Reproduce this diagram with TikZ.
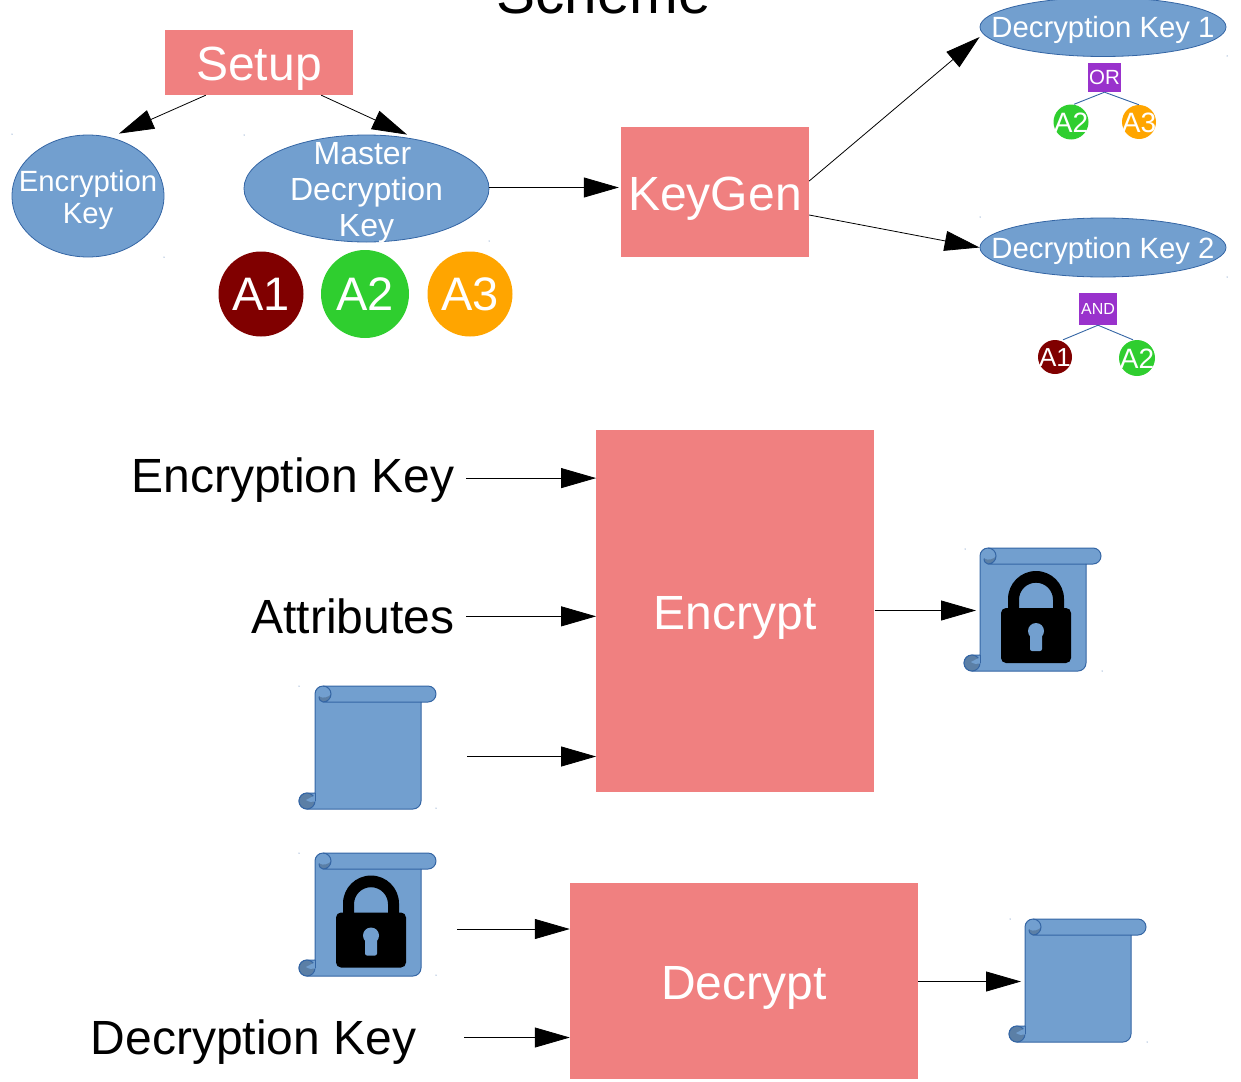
\documentclass[tikz,border=0pt]{standalone}
\usepackage{fontspec}
\setmainfont{Liberation Sans}
\usetikzlibrary{arrows.meta,shapes.geometric}
\definecolor{bluefill}{HTML}{729FCF}
\definecolor{blueline}{HTML}{3465A4}
\definecolor{bluedark}{HTML}{5B7FA6}
\definecolor{salmon}{HTML}{F08080}
\definecolor{darkred}{HTML}{800000}
\definecolor{greenA}{HTML}{2FCE2F}
\definecolor{orangeA}{HTML}{FFA500}
\definecolor{purpleB}{HTML}{9932CC}
\newcommand{\fsz}[1]{\fontsize{#1}{#1}\selectfont}
\tikzset{
  boxnode/.style={fill=salmon,inner sep=0pt,text=white,font=\fsz{48},text height=37pt,text depth=0pt},
  ell/.style={ellipse,draw=blueline,fill=bluefill,inner sep=0pt,line width=0.8pt},
  lbl/.style={text=white,font=\fsz{29.3},align=center,inner sep=0pt},
  attr/.style={circle,inner sep=0pt},
  gate/.style={fill=purpleB,inner sep=0pt,text=white},
  plain/.style={text=black,font=\fsz{48},inner sep=0pt,anchor=base east},
  conn/.style={draw=black,line width=0.8pt,-{Triangle[length=35pt,width=20pt]},shorten >=0pt},
  tree/.style={draw=blueline,line width=0.9pt},
  speck/.style={fill=blueline},
  scrollsheet/.pic={
    \draw[fill=bluefill,draw=blueline,line width=1pt,line join=round]
      (0,8) arc[start angle=180,end angle=90,radius=8pt] -- (113,0)
      arc[start angle=90,end angle=-90,radius=8pt] -- (106,16) -- (106,115)
      arc[start angle=0,end angle=-90,radius=8pt] -- (-8,123)
      arc[start angle=-90,end angle=-270,radius=8pt] -- (0,107) -- cycle;
    \fill[bluedark]
      (4,10.5) .. controls (4,15) and (7,16) .. (8,16)
      .. controls (12,16) and (16,13) .. (16,8)
      .. controls (14.5,11) and (8,13) .. (4,10.5) -- cycle;
    \draw[draw=blueline,line width=1pt]
      (8,0) arc[start angle=90,end angle=-90,radius=8pt] -- (106,16);
    \draw[draw=blueline,line width=1pt]
      (8,16) .. controls (6,15.5) and (4,14) .. (4,10.5);
    \draw[fill=bluedark,draw=blueline,line width=1pt] (-8,115) circle[radius=8pt];
    \fill[bluefill]
      (-9,114) .. controls (-6,112) and (-3,111) .. (0,109.5) -- (0,115.5)
      .. controls (-3,116.5) and (-6,116) .. (-9,114) -- cycle;
    \draw[draw=blueline,line width=1pt] (0,107) -- (0,115);
  },
  padlock/.pic={
    \fill[black,even odd rule]
      (28,51) arc[start angle=180,end angle=0,radius=28pt] -- (84,62) -- (28,62) -- cycle
      (39,62) -- (39,51.7) arc[start angle=180,end angle=0,radius=17pt] -- (73,62) -- cycle;
    \fill[black,rounded corners=5pt] (21,60) rectangle (91,115);
    \fill[bluefill,rounded corners=2pt] (50,82) -- (50,103) -- (62,103) -- (62,82) -- cycle;
    \fill[bluefill] (56,83) circle[radius=8pt];
  },
}
\begin{document}
\begin{tikzpicture}[x=1pt,y=-1pt]
\useasboundingbox (0,0) rectangle (1241,1081);
% title
\node[inner sep=0pt,anchor=base,font=\fsz{58.5}] (title) at (603.5,14) {Scheme};
% setup row
\node[boxnode,minimum width=188pt,minimum height=65pt] (setup) at (259,62.5) {Setup};
\node[ell,minimum width=152pt,minimum height=122pt,label={[lbl,yshift=-4pt]center:{Encryption\\[3pt]Key}}] (enc) at (88,196) {};
\node[ell,minimum width=245pt,minimum height=107pt,label={[lbl,font=\fsz{32},yshift=-4pt]center:{Master\hspace*{8pt}\\[4pt]Decryption\\[4pt]Key}}] (master) at (366.5,188.5) {};
\node[attr,fill=darkred,minimum size=85pt,label={[lbl,font=\fsz{47}]center:A1}] (a1) at (261,294) {};
\node[attr,fill=greenA,minimum size=88pt,label={[lbl,font=\fsz{47}]center:A2}] (a2) at (365,294) {};
\node[attr,fill=orangeA,minimum size=85pt,label={[lbl,font=\fsz{47}]center:A3}] (a3) at (470,294) {};
\node[boxnode,minimum width=188pt,minimum height=130pt] (keygen) at (715,192) {KeyGen};
% keys
\node[ell,minimum width=246pt,minimum height=59pt,label={[lbl,yshift=-3pt]center:Decryption Key 1}] (dk1) at (1103,27) {};
\node[ell,minimum width=246pt,minimum height=59pt,label={[lbl,yshift=-3pt]center:Decryption Key 2}] (dk2) at (1103,247.5) {};
\node[gate,minimum width=33pt,minimum height=29pt,font=\fsz{20.5}] (orgate) at (1104.5,77.5) {OR};
\node[attr,fill=greenA,minimum size=35pt,label={[lbl,font=\fsz{28},yshift=-1pt]center:A2}] (ka2) at (1071,122) {};
\node[attr,fill=orangeA,minimum size=34pt,label={[lbl,font=\fsz{28},yshift=-1pt]center:A3}] (ka3) at (1139,122) {};
\node[gate,minimum width=38pt,minimum height=32pt,font=\fsz{16}] (andgate) at (1098,309) {AND};
\node[attr,fill=darkred,minimum size=34pt,label={[lbl,font=\fsz{26},yshift=-1pt]center:A1}] (kb1) at (1055,357) {};
\node[attr,fill=greenA,minimum size=36pt,label={[lbl,font=\fsz{28},yshift=-1pt]center:A2}] (kb2) at (1137,358) {};
\draw[tree] (orgate.south) -- ([xshift=3pt]ka2.north);
\draw[tree] (orgate.south) -- (ka3.north);
\draw[tree] (andgate.south) -- ([xshift=8pt]kb1.north);
\draw[tree] (andgate.south) -- ([xshift=-4pt]kb2.north);
% connectors top
\draw[conn] ([xshift=41pt]setup.south west) -- ([xshift=31pt,yshift=1pt]enc.north);
\draw[conn] ([xshift=-32pt]setup.south east) -- ([xshift=40.5pt]master.north);
\draw[conn] ([yshift=1pt]master.east) -- ([yshift=1pt,xshift=-2pt]master.east -| keygen.west);
\draw[conn] ([yshift=11pt]keygen.east) -- ([yshift=-10pt]dk1.west);
\draw[conn] ([yshift=-23pt]keygen.east) -- (dk2.west);
% encrypt
\node[boxnode,minimum width=278pt,minimum height=362pt] (encrypt) at (735.3,611) {Encrypt};
\node[plain] (ektext) at (454.5,492) {Encryption Key};
\node[plain] (attrtext) at (454.5,633) {Attributes};
\pic at (315,686) {scrollsheet};
\coordinate (plainout) at (467,756.5);
\draw[conn] ([xshift=11.5pt,yshift=1.5pt]ektext.east) -- ([yshift=1.5pt]ektext.east -| encrypt.west);
\draw[conn] ([xshift=11.5pt,yshift=-0.5pt]attrtext.east) -- ([yshift=-0.5pt]attrtext.east -| encrypt.west);
\draw[conn] (plainout) -- (plainout -| encrypt.west);
\pic at (980,548) {scrollsheet};
\pic at (980,548) {padlock};
\coordinate (cipherin) at (976,610.5);
\draw[conn] ([yshift=0.5pt]encrypt.east) -- (cipherin);
% decrypt
\node[boxnode,minimum width=348pt,minimum height=196pt] (decrypt) at (744,981) {Decrypt};
\pic at (315,853) {scrollsheet};
\pic at (315,852.5) {padlock};
\coordinate (lockout) at (457,929);
\node[plain] (dktext) at (416.5,1054) {Decryption Key};
\coordinate (dkout) at (464,1037.5);
\draw[conn] (lockout) -- (lockout -| decrypt.west);
\draw[conn] (dkout) -- (dkout -| decrypt.west);
\pic at (1025,919) {scrollsheet};
\coordinate (plainin) at (1021,981.5);
\draw[conn] (plainin -| decrypt.east) -- (plainin);
% specks
\foreach \p in {(12,134),(244,135),(164,257),(489,241),(1227,56),(980,217),(1227,277),(965,549),(1102,671),(299,686),(436,808),(299,853),(436,975),(1010,919),(1147,1042)}
  \fill[speck] \p circle[radius=0.5pt];
\end{tikzpicture}
\end{document}
